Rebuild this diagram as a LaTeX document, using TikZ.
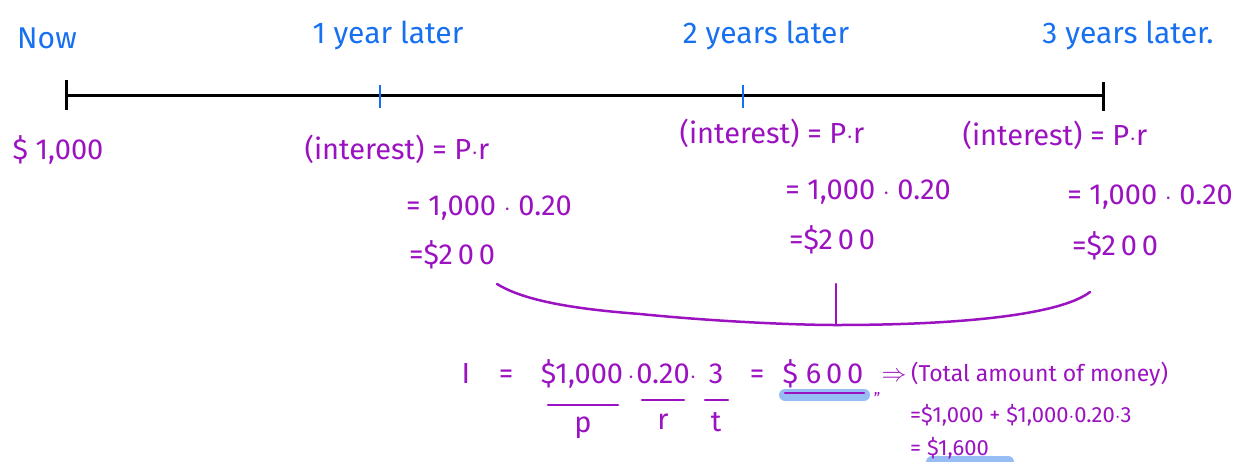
\documentclass[tikz,border=0pt]{standalone}
\usepackage{fontspec}
\setmainfont{Fira Sans}
\definecolor{hblue}{RGB}{22,112,240}
\definecolor{hpurple}{RGB}{155,18,192}
\definecolor{hlight}{RGB}{150,190,245}
\begin{document}
\begin{tikzpicture}[x=1pt,y=-1pt,
  bluetxt/.style={text=hblue,font=\fontsize{30}{34}\selectfont,inner sep=0pt},
  purtxt/.style={text=hpurple,font=\fontsize{29}{32}\selectfont,inner sep=0pt},
  eqtxt/.style={text=hpurple,font=\fontsize{29}{32}\selectfont,inner sep=0pt,anchor=base},
  smalltxt/.style={text=hpurple,font=\fontsize{22}{24}\selectfont,inner sep=0pt},
  axis/.style={line width=3pt,black},
  btick/.style={line width=2.5pt,hblue},
  pline/.style={line width=2.5pt,hpurple,line cap=round},
  hl/.style={line width=12pt,hlight,line cap=round}]
\useasboundingbox (0,0) rectangle (1241,461);
% timeline
\coordinate (t0) at (66,95);
\coordinate (t1) at (380,95);
\coordinate (t2) at (743,95);
\coordinate (t3) at (1103,95);
\draw[axis] (t0) -- (t3);
\draw[axis] ([yshift=15]t0) -- ([yshift=-15]t0);
\draw[axis] ([yshift=13]t3) -- ([yshift=-16]t3);
\draw[btick] ([yshift=10]t1) -- ([yshift=-13]t1);
\draw[btick] ([yshift=10]t2) -- ([yshift=-13]t2);
% blue labels
\node[bluetxt] (now) at (47,38) {Now};
\node[bluetxt] (y1) at (388,35) {1 year later};
\node[bluetxt] (y2) at (766,35) {2 years later};
\node[bluetxt] (y3) at (1128,35) {3 years later.};
% purple column texts
\node[purtxt] (p0) at (58,150) {\$ 1,000};
\node[purtxt] (i1) at (397,149) {(interest) = P$\cdot$r};
\node[purtxt] (i2) at (772,133) {(interest) = P$\cdot$r};
\node[purtxt] (i3) at (1055,135) {(interest) = P$\cdot$r};
\node[purtxt] (c1) at (489,208) {= 1,000 $\cdot$ 0.20};
\node[purtxt] (c2) at (868,192) {= 1,000 $\cdot$ 0.20};
\node[purtxt] (c3) at (1150,197) {= 1,000 $\cdot$ 0.20};
\node[purtxt] (r1) at (452,255) {=\$2\,0\,0};
\node[purtxt] (r2) at (832,240) {=\$2\,0\,0};
\node[purtxt] (r3) at (1115,246) {=\$2\,0\,0};
% brace
\coordinate (bl) at (497,284);
\coordinate (bm) at (836,325);
\coordinate (bt) at (836,284);
\coordinate (br) at (1090,292);
\draw[pline] (bl) .. controls (520,298) and (560,308) .. (640,314) .. controls (720,322) and (800,325) .. (bm) .. controls (960,325) and (1060,315) .. (br);
\draw[pline] (bt) -- (bm);
% highlight under $600
\coordinate (h1) at (785,395);
\coordinate (h2) at (864,395);
\draw[hl] (h1) -- (h2);
\draw[pline] ([yshift=2]h1) -- ([yshift=2]h2);
\node[text=hpurple,font=\fontsize{16}{16}\selectfont,inner sep=0pt] (q) at (877,398) {\char"201D};
% main equation
\node[eqtxt] (eI) at (466,383) {I};
\node[eqtxt] (eq1) at (506,383) {=};
\node[eqtxt] (eP) at (582,383) {\$1,000};
\node[eqtxt] (d1) at (631,383) {$\cdot$};
\node[eqtxt] (eR) at (663,383) {0.20};
\node[eqtxt] (d2) at (693,383) {$\cdot$};
\node[eqtxt] (eT) at (716,383) {3};
\node[eqtxt] (eq2) at (757,383) {=};
\node[eqtxt] (e600) at (823,383) {\$ 6\,0\,0};
\node[eqtxt] (arr) at (894,381) {$\Rightarrow$};
\node[eqtxt,anchor=base west,font=\fontsize{23}{26}\selectfont] (total) at (911,381) {(Total amount of money)};
\coordinate (u1a) at (548,405); \coordinate (u1b) at (618,405);
\coordinate (u2a) at (642,400); \coordinate (u2b) at (684,400);
\coordinate (u3a) at (705,400); \coordinate (u3b) at (728,400);
\draw[pline] (u1a) -- (u1b);
\draw[pline] (u2a) -- (u2b);
\draw[pline] (u3a) -- (u3b);
\node[purtxt] (lp) at (583,428) {p};
\node[purtxt] (lr) at (663,422) {r};
\node[purtxt] (lt) at (716,422) {t};
% total
\coordinate (h3) at (932,462);
\coordinate (h4) at (1008,462);
\draw[hl] (h3) -- (h4);
\node[smalltxt,anchor=base west] (tot1) at (910,422) {=\$1,000 + \$1,000$\cdot$0.20$\cdot$3};
\node[smalltxt,anchor=base west] (tot2) at (910,455) {= \$1,600};
\end{tikzpicture}
\end{document}
